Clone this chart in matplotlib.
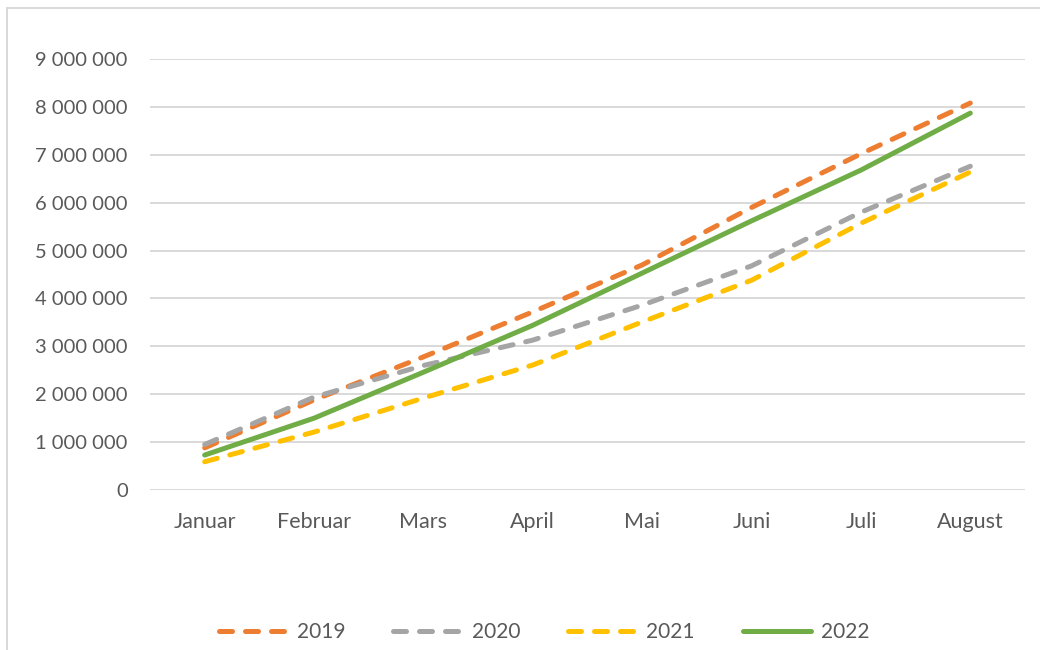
import matplotlib.pyplot as plt
from matplotlib.lines import Line2D
from matplotlib.ticker import FuncFormatter

months = ['Januar', 'Februar', 'Mars', 'April', 'Mai', 'Juni', 'Juli', 'August']
years = ['2019', '2020', '2021', '2022']

v2019 = [880000, 1880000, 2780000, 3720000, 4700000, 5900000, 7020000, 8080000]
v2020 = [950000, 1940000, 2600000, 3130000, 3860000, 4680000, 5800000, 6760000]
v2021 = [590000, 1210000, 1920000, 2610000, 3510000, 4380000, 5570000, 6640000]
v2022 = [730000, 1500000, 2460000, 3440000, 4530000, 5620000, 6680000, 7870000]

series = [v2019, v2020, v2021, v2022]
colors = ['#ED7D31', '#A5A5A5', '#FFC000', '#70AD47']
dashed = [True, True, True, False]

plt.rcParams['font.family'] = ['Lato', 'DejaVu Sans']

fig = plt.figure(figsize=(10.4, 6.5), dpi=100)
ax = fig.add_axes([150 / 1040, 1 - 490 / 650, 875 / 1040, 431 / 650])

dash_style = (0, (2.6, 2.6))
lw = 3.6
x = list(range(len(months)))
for vals, col, dash, lab in zip(series, colors, dashed, years):
    ax.plot(x, vals, color=col, lw=lw, label=lab,
            linestyle=dash_style if dash else '-',
            dash_capstyle='round', solid_capstyle='round')

ax.set_xlim(-0.5, len(months) - 0.5)
ax.set_ylim(0, 9000000)
ax.set_yticks(range(0, 9000001, 1000000))
ax.yaxis.set_major_formatter(FuncFormatter(lambda v, p: f"{int(v):,}".replace(',', ' ')))
ax.set_xticks(x)
ax.set_xticklabels(months)
ax.grid(axis='y', color='#D9D9D9', lw=1.4)
ax.set_axisbelow(True)
for s in ax.spines.values():
    s.set_visible(False)
ax.tick_params(length=0, colors='#595959')
ax.tick_params(axis='y', pad=16, labelsize=14.5)
ax.tick_params(axis='x', pad=16, labelsize=15.5)

handles = [Line2D([0], [0], color=c, lw=lw,
                  linestyle=dash_style if d else '-',
                  dash_capstyle='round', solid_capstyle='round')
           for c, d in zip(colors, dashed)]
leg = fig.legend(handles, years, loc='center', bbox_to_anchor=(544 / 1040, 1 - 632 / 650),
                 ncol=4, frameon=False, fontsize=15, handlelength=3.3,
                 handletextpad=0.45, columnspacing=2.3, labelcolor='#595959')

# chart area border (only top and left are visible in the frame)
fig.add_artist(Line2D([7 / 1040, 1], [1 - 8 / 650, 1 - 8 / 650], color='#D9D9D9', lw=1.4))
fig.add_artist(Line2D([7 / 1040, 7 / 1040], [0, 1 - 8 / 650], color='#D9D9D9', lw=1.4))

fig.savefig('out.png', dpi=100)
